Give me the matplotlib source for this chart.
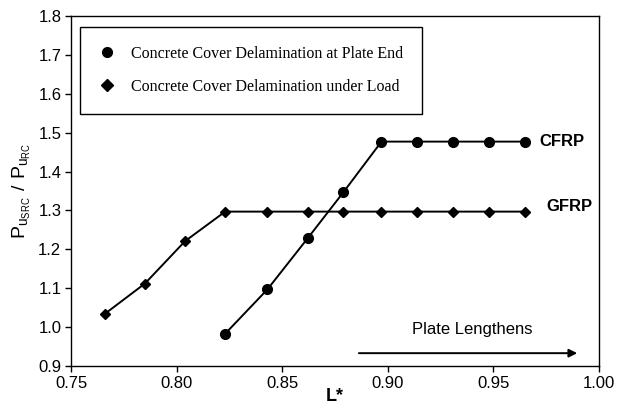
import matplotlib.pyplot as plt
from matplotlib.lines import Line2D

# CFRP: concrete cover delamination at plate end
cfrp_x = [0.823, 0.843, 0.862, 0.879, 0.897, 0.914, 0.931, 0.948, 0.965]
cfrp_y = [0.983, 1.097, 1.228, 1.347, 1.477, 1.477, 1.477, 1.477, 1.477]

# GFRP: concrete cover delamination under load
gfrp_x = [0.766, 0.785, 0.804, 0.823, 0.843, 0.862, 0.879, 0.897, 0.914, 0.931, 0.948, 0.965]
gfrp_y = [1.034, 1.112, 1.221, 1.297, 1.297, 1.297, 1.297, 1.297, 1.297, 1.297, 1.297, 1.297]

x_ticks = [0.75, 0.80, 0.85, 0.90, 0.95, 1.00]
y_ticks = [0.9, 1.0, 1.1, 1.2, 1.3, 1.4, 1.5, 1.6, 1.7, 1.8]

sans = 'Liberation Sans'
serif = 'Liberation Serif'

fig = plt.figure(figsize=(6.17, 4.13), dpi=100)
ax = fig.add_axes([71 / 617, 47 / 413, 528 / 617, 350 / 413])

ax.plot(cfrp_x, cfrp_y, color='black', lw=1.4, marker='o', ms=7)
ax.plot(gfrp_x, gfrp_y, color='black', lw=1.4, marker='D', ms=5.5)

ax.set_xlim(0.75, 1.00)
ax.set_ylim(0.9, 1.8)
ax.set_xticks(x_ticks)
ax.set_xticklabels([f'{v:.2f}' for v in x_ticks], fontfamily=sans, fontsize=12)
ax.set_yticks(y_ticks)
ax.set_yticklabels([f'{v:.1f}' for v in y_ticks], fontfamily=sans, fontsize=12)
ax.tick_params(direction='out', length=4, width=1, pad=3)
for s in ax.spines.values():
    s.set_linewidth(1)

ax.set_xlabel('L*', fontfamily=sans, fontsize=13, fontweight='bold', labelpad=-2)
ax.set_ylabel(r'$\mathregular{P_{u_{SRC}}\ /\ P_{u_{RC}}}$', fontfamily=sans,
              fontsize=14, labelpad=4)

# Series labels
ax.text(0.9716, 1.477, 'CFRP', fontfamily=sans, fontsize=12, fontweight='bold', va='center')
ax.text(0.975, 1.309, 'GFRP', fontfamily=sans, fontsize=12, fontweight='bold', va='center')

# Plate lengthens arrow
ax.annotate('', xy=(0.991, 0.933), xytext=(0.885, 0.933),
            arrowprops=dict(arrowstyle='-|>', color='black', lw=1.4, mutation_scale=12))
ax.text(0.94, 0.993, 'Plate Lengthens', fontfamily=sans, fontsize=12, ha='center', va='center')

handles = [
    Line2D([], [], color='black', marker='o', ls='none', ms=7),
    Line2D([], [], color='black', marker='D', ls='none', ms=6),
]
labels = ['Concrete Cover Delamination at Plate End',
          'Concrete Cover Delamination under Load']
leg = ax.legend(handles, labels, loc='upper left', bbox_to_anchor=(0.017, 0.969),
                prop={'family': serif, 'size': 11.5}, fancybox=False, framealpha=1,
                edgecolor='black', borderpad=1.2, labelspacing=1.05, handletextpad=1.0,
                borderaxespad=0, handlelength=1.0)
leg.get_frame().set_linewidth(1)

fig.savefig('out.png', dpi=100)
